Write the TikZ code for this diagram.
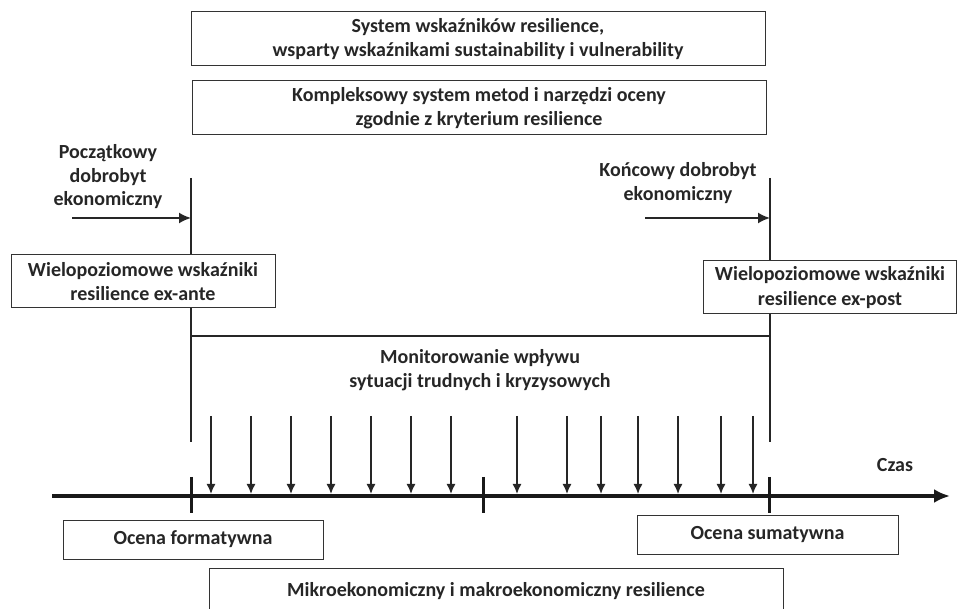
\documentclass[tikz,border=0pt]{standalone}
\usepackage{fontspec}
\setmainfont{Carlito}
\usetikzlibrary{arrows.meta}
\tikzset{
  opis/.style={font=\fontsize{20}{23.5}\selectfont\bfseries, text=black!85, align=center},
  ramka/.style={opis, draw=black!80, line width=1pt, fill=white, minimum height=#1, inner sep=0pt},
  ramka/.default=54pt,
  linia/.style={draw=black!85, line width=1.2pt},
  zdarzenie/.style={draw=black!85, line width=1.5pt, -{Latex[length=10pt,width=9pt]}},
  wejscie/.style={draw=black!85, line width=1.8pt, -{Latex[length=12pt,width=11pt]}},
}
\begin{document}
\begin{tikzpicture}[x=1pt, y=-1pt]
\useasboundingbox (0,0) rectangle (959,609);
% gorne ramki
\node[ramka, minimum width=574pt] (wskazniki) at (478,39) {System wskaźników resilience,\\wsparty wskaźnikami sustainability i vulnerability};
\node[ramka, minimum width=574pt] (metody) at (479,108) {Kompleksowy system metod i narzędzi oceny\\zgodnie z kryterium resilience};
% linie pionowe i pozioma
\coordinate (lg) at (191,178); \coordinate (ld) at (191,442);
\coordinate (pg) at (770,178); \coordinate (pd) at (770,442);
\coordinate (ls) at (191,336); \coordinate (ps) at (770,336);
\draw[linia] (lg)--(ld);
\draw[linia] (pg)--(pd);
\draw[linia] (ls)--(ps);
% dobrobyt
\node[opis] (poczatek) at (108,177) {Początkowy\\dobrobyt\\ekonomiczny};
\node[opis] (koniec) at (678,183) {Końcowy dobrobyt\\ekonomiczny};
\coordinate (wl) at (72,218); \coordinate (wl2) at (191,218);
\coordinate (wp) at (645,218); \coordinate (wp2) at (770,218);
\draw[wejscie] (wl)--(wl2);
\draw[wejscie] (wp)--(wp2);
\node[ramka=53pt, minimum width=264pt] (exante) at (143,281.5) {Wielopoziomowe wskaźniki\\resilience ex-ante};
\node[ramka=53pt, minimum width=253pt, font=\fontsize{20}{24.5}\selectfont\bfseries] (expost) at (830,287.5) {Wielopoziomowe wskaźniki\\resilience ex-post};
\node[opis] (monitor) at (480,370) {Monitorowanie wpływu\\sytuacji trudnych i kryzysowych};
% os czasu
\coordinate (os0) at (52,496); \coordinate (os1) at (950,496);
\draw[draw=black!90, line width=4pt, -{Latex[length=16pt,width=14pt]}] (os0)--(os1);
\foreach \t in {191,483,769}
  \draw[draw=black!90, line width=3pt] (\t,477)--(\t,513);
\foreach \z in {211,251,291,331,371,411,451,517,567,601,638,678,721,753}
  \draw[zdarzenie] (\z,416)--(\z,494);
\node[opis] (czas) at (895,465) {Czas};
% dolne ramki
\node[ramka=39pt, minimum width=260pt] (formatywna) at (193,539.5) {Ocena formatywna};
\node[ramka=39pt, minimum width=261pt] (sumatywna) at (767.5,534.5) {Ocena sumatywna};
\node[ramka=46pt, minimum width=574pt, anchor=north] (mikro) at (496,568) {Mikroekonomiczny i makroekonomiczny resilience};
\end{tikzpicture}
\end{document}
